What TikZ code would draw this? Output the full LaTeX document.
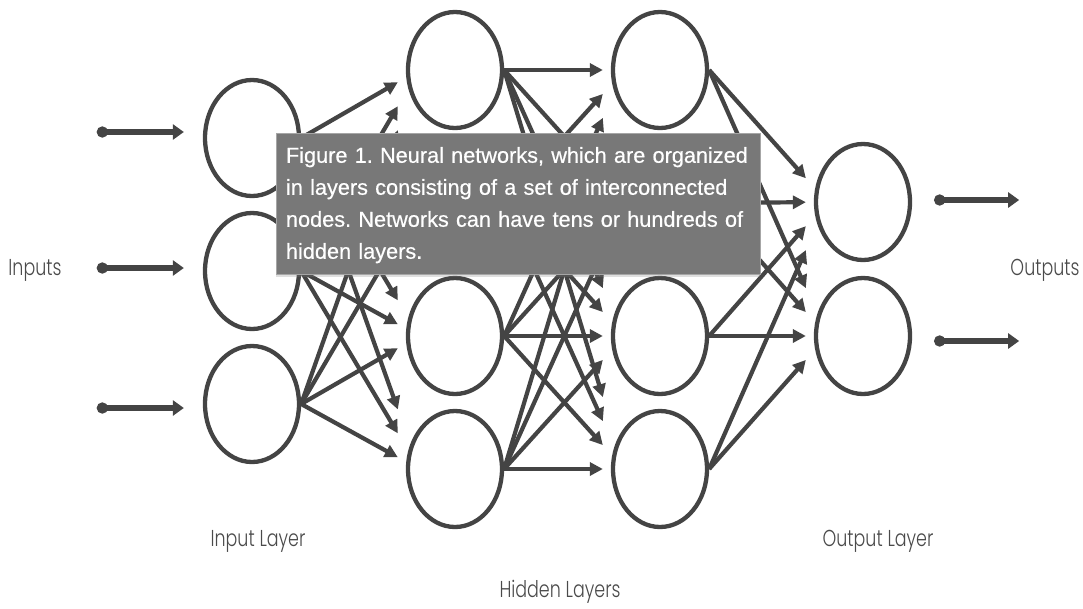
\documentclass[tikz,border=0pt]{standalone}
\usepackage{fontspec}
\setmainfont{Poppins}[UprightFont={* Light}, FakeStretch=0.76]
\newfontfamily\capfont{Liberation Sans}[UprightFeatures={FakeBold=0.5}]
\usetikzlibrary{shapes.geometric,arrows.meta,calc,shadows}
\definecolor{inkgray}{RGB}{68,68,68}
\definecolor{textgray}{RGB}{74,74,74}
\definecolor{capgray}{RGB}{120,120,120}

\begin{document}
\begin{tikzpicture}[x=1pt,y=-1pt,
    neuron/.style={draw=inkgray, line width=4.3pt, ellipse, minimum width=94pt, minimum height=116pt, inner sep=0pt},
    link/.style={inkgray, line width=4.2pt, -{Triangle[length=13pt,width=13pt]}},
    signal/.style={inkgray, line width=5.5pt, {Circle[length=11pt]}-{Triangle[length=11pt,width=15pt]}},
    layername/.style={font=\fontsize{23}{26}\selectfont, text=textgray}]
    \useasboundingbox (0,0) rectangle (1083,608);

    % layers
    \foreach \i/\y in {1/138,2/271,3/404}
        \node[neuron] (in\i) at (252,\y) {};
    \foreach \i/\y in {1/70,2/203,3/336,4/469} {
        \node[neuron] (hida\i) at (455,\y) {};
        \node[neuron] (hidb\i) at (660,\y) {};
    }
    \node[neuron] (out1) at (863,202) {};
    \node[neuron] (out2) at (863,336) {};

    % connections
    \foreach \s/\sy in {1/138,2/271,3/404}
        \foreach \t/\ty in {1/70,2/203,3/336,4/469}
            \draw[link] (in\s.east) -- ($(hida\t.west)+(-8,{0.18*(\sy-\ty)})$);
    \foreach \s/\sy in {1/70,2/203,3/336,4/469}
        \foreach \t/\ty in {1/70,2/203,3/336,4/469}
            \draw[link] (hida\s.east) -- ($(hidb\t.west)+(-8,{0.18*(\sy-\ty)})$);
    \foreach \s/\sy in {1/70,2/203,3/336,4/469}
        \foreach \t/\ty in {1/202,2/336}
            \draw[link] (hidb\s.east) -- ($(out\t.west)+(-8,{0.18*(\sy-\ty)})$);

    % inputs and outputs
    \foreach \i/\d in {1/6,2/3,3/-4}
        \draw[signal] ([xshift=-106pt,yshift=\d pt]in\i.west) -- ([xshift=-19pt,yshift=\d pt]in\i.west);
    \foreach \i/\d in {1/2,2/-5}
        \draw[signal] ([xshift=22pt,yshift=\d pt]out\i.east) -- ([xshift=107pt,yshift=\d pt]out\i.east);

    \node[layername] (inputs) at (35,270) {Inputs};
    \node[layername] (outputs) at (1045,270) {Outputs};
    \node[layername] (inlayer) at (258,541) {Input Layer};
    \node[layername] (outlayer) at (878,541) {Output Layer};
    \node[layername] (hidlayer) at (560,592) {Hidden Layers};

    \node[fill=capgray, draw=gray!70, line width=0.6pt, text=white, align=left,
        text width=464pt, inner xsep=10pt, minimum height=141pt,
        font=\capfont\fontsize{21.7}{32}\selectfont\frenchspacing,
        drop shadow={shadow xshift=0pt, shadow yshift=-3pt, opacity=0.25}]
        (caption) at (518,203.5) {\rule{0pt}{19pt}Figure 1. Neural networks, which are organized\\
        in layers consisting of a set of interconnected\\
        nodes. Networks can have tens or hundreds of\\
        hidden layers.};
\end{tikzpicture}
\end{document}
